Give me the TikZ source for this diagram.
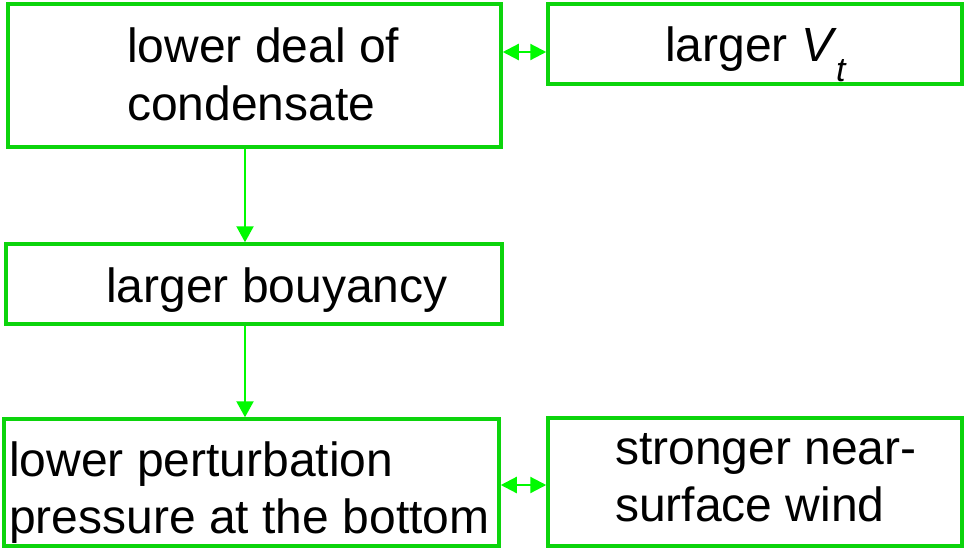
\documentclass[tikz,border=0pt]{standalone}
\usepackage{fontspec}
\setmainfont{Liberation Sans}
\usetikzlibrary{arrows.meta}
\definecolor{boxgreen}{RGB}{12,212,12}
\definecolor{arrgreen}{RGB}{0,250,0}
\tikzset{
  box/.style={draw=boxgreen, line width=3.5pt, rectangle, inner sep=0pt},
  txt/.style={anchor=base west, inner sep=0pt, font=\fontsize{48}{58}\selectfont},
  arr/.style={draw=arrgreen, line width=2.2pt, -{Triangle[length=16pt,width=17pt]}},
  darr/.style={draw=arrgreen, line width=2.2pt, {Triangle[length=16pt,width=16pt]}-{Triangle[length=16pt,width=16pt]}}
}
\begin{document}
\begin{tikzpicture}[x=1pt,y=-1pt]
\useasboundingbox (0,0) rectangle (965,549);
% boxes
\node[box, minimum width=493pt, minimum height=143pt] (B1) at (254.5,75.5) {};
\node[box, minimum width=414pt, minimum height=80pt] (B2) at (755,44) {};
\node[box, minimum width=496pt, minimum height=80pt] (B3) at (254,284) {};
\node[box, minimum width=495pt, minimum height=127pt] (B4) at (251.5,482.5) {};
\node[box, minimum width=414pt, minimum height=128pt] (B5) at (755,482) {};
% texts
\node[txt] (t1a) at (127,62) {lower deal of};
\node[txt] (t1b) at (127,120) {condensate};
\node[txt] (t2) at (665,61) {larger \textit{V}\kern-1pt\raisebox{-0.42em}{\fontsize{34}{34}\selectfont\textit{t}}};
\node[txt] (t3) at (106,302) {larger bouyancy};
\node[txt] (t4a) at (9,476) {lower perturbation};
\node[txt] (t4b) at (9,533) {pressure at the bottom};
\node[txt] (t5a) at (615,464) {stronger near-};
\node[txt] (t5b) at (615,521) {surface wind};
% connectors
\coordinate (ax) at (245,0);
\coordinate (ay1) at (0,52);
\coordinate (ay2) at (0,485);
\draw[arr] (B1.south -| ax) -- (B3.north -| ax);
\draw[arr] (B3.south -| ax) -- (B4.north -| ax);
\draw[darr] (B1.east |- ay1) -- (B2.west |- ay1);
\draw[darr] (B4.east |- ay2) -- (B5.west |- ay2);
\end{tikzpicture}
\end{document}
